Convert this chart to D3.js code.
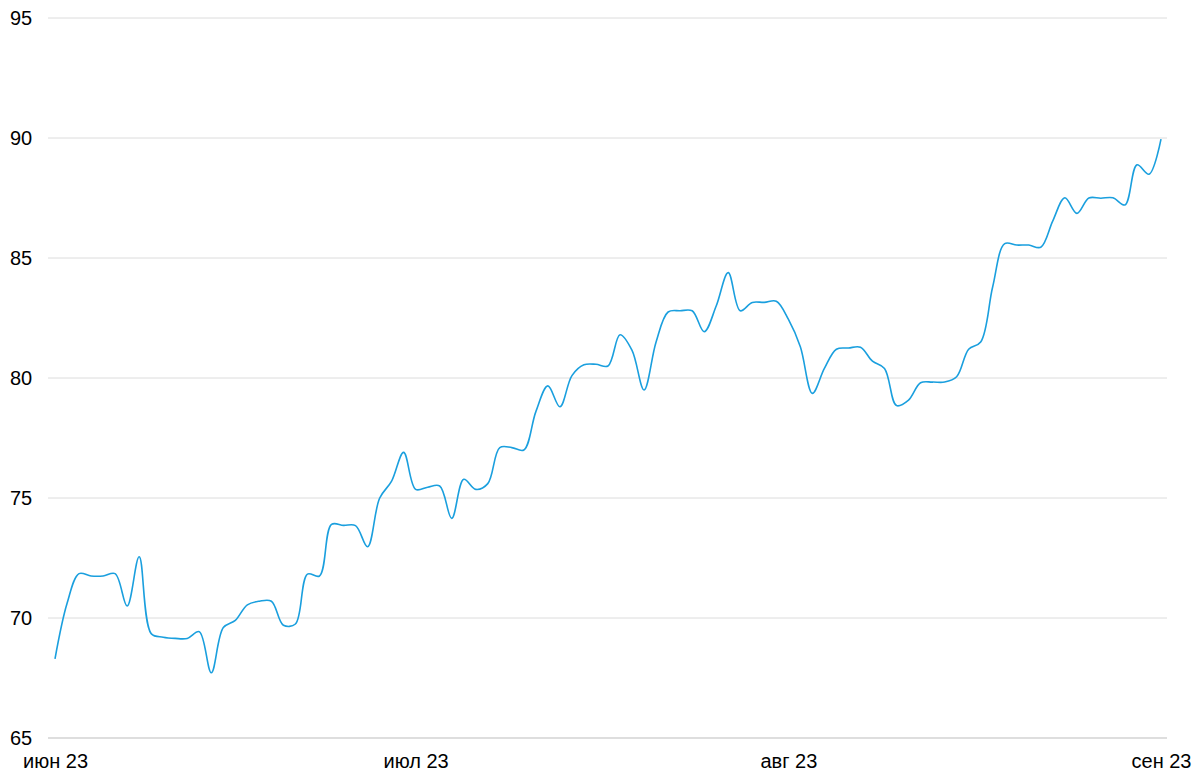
<!DOCTYPE html>
<html>
<head>
<meta charset="utf-8">
<script src="https://cdn.jsdelivr.net/npm/d3@7"></script>
<style>
  body { margin: 0; background: #fff; }
  text { font-family: "Liberation Sans", Arial, sans-serif; }
</style>
</head>
<body>
<div id="holder"></div>
<script>
// daily values, 1 Jun 2023 .. 1 Sep 2023
var startDate = new Date(2023, 5, 1);
var values = [
  68.3, 70.6, 71.85, 71.75, 71.75, 71.85, 70.5, 72.55, 69.35, 69.2,
  69.15, 69.15, 69.43, 67.72, 69.6, 69.9, 70.55, 70.7, 70.7, 69.7,
  69.75, 71.83, 71.75, 73.9, 73.86, 73.85, 72.97, 74.99, 75.7, 76.9,
  75.36, 75.45, 75.5, 74.15, 75.78, 75.36, 75.6, 77.1, 77.1, 77.0,
  78.6, 79.67, 78.8, 80.1, 80.55, 80.57, 80.5, 81.8, 81.15, 79.5,
  81.5, 82.75, 82.8, 82.8, 81.93, 83.0, 84.39, 82.8, 83.15, 83.15,
  83.2, 82.45, 81.3, 79.36, 80.4, 81.2, 81.25, 81.28, 80.7, 80.4,
  78.85, 79.08, 79.8, 79.83, 79.83, 80.05, 81.2, 81.5, 83.8, 85.6,
  85.54, 85.54, 85.45, 86.55, 87.51, 86.86, 87.5, 87.49, 87.51, 87.21,
  88.88, 88.49, 89.95
];
var yTicks = [65, 70, 75, 80, 85, 90, 95];
var monthTicks = [new Date(2023, 5, 1), new Date(2023, 6, 1), new Date(2023, 7, 1), new Date(2023, 8, 1)];
var monthLabels = ["июн 23", "июл 23", "авг 23", "сен 23"];

var data = values.map(function(v, i) {
  return { date: d3.timeDay.offset(startDate, i), value: v };
});

var width = 1200, height = 782;
var svg = d3.select('#holder').append('svg').attr('width', width).attr('height', height);

var x = d3.scaleTime().domain([startDate, new Date(2023, 8, 1)]).range([55, 1161]);
var y = d3.scaleLinear().domain([65, 95]).range([738, 18]);

// grid
svg.append('g').selectAll('line').data(yTicks).enter().append('line')
  .attr('x1', 48).attr('x2', 1167)
  .attr('y1', function(d) { return y(d); })
  .attr('y2', function(d) { return y(d); })
  .style('stroke', function(d) { return d === 65 ? '#bdbdbd' : '#dcdcdc'; })
  .style('stroke-width', 1);

// y labels
svg.append('g').selectAll('text').data(yTicks).enter().append('text')
  .attr('x', 10)
  .attr('y', function(d) { return y(d); })
  .attr('dy', '0.35em')
  .style('font-size', '20px')
  .style('fill', '#000')
  .text(function(d) { return d; });

// x axis labels
var xAxis = d3.axisBottom(x)
  .tickValues(monthTicks)
  .tickSize(0)
  .tickPadding(0)
  .tickFormat(function(d, i) { return monthLabels[i]; });

var gx = svg.append('g').attr('transform', 'translate(0,754)').call(xAxis);
gx.select('.domain').remove();
gx.selectAll('text')
  .style('font-size', '20px')
  .style('fill', '#000')
  .style('font-family', '"Liberation Sans", Arial, sans-serif');

// line
var line = d3.line()
  .x(function(d) { return x(d.date); })
  .y(function(d) { return y(d.value); })
  .curve(d3.curveCatmullRom);

svg.append('path')
  .datum(data)
  .attr('d', line)
  .style('fill', 'none')
  .style('stroke', '#1a9fde')
  .style('stroke-width', 1.6);
</script>
</body>
</html>
